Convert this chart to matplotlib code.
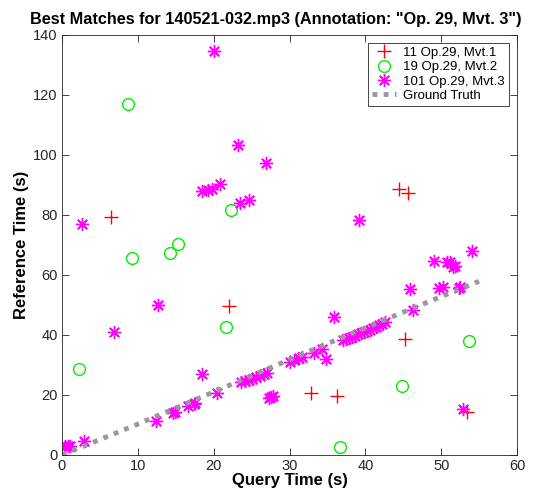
import matplotlib
matplotlib.use("Agg")
import matplotlib.pyplot as plt

plt.rcParams['font.family'] = ['Liberation Sans', 'DejaVu Sans']

# piece 11 (Op.29, Mvt.1) matches
red_x = [6.4, 22.0, 44.4, 45.6, 45.2, 32.85, 36.3, 53.4]
red_y = [79.2, 49.7, 88.7, 87.3, 38.8, 20.7, 19.8, 14.3]

# piece 19 (Op.29, Mvt.2) matches
green_x = [8.66, 22.3, 9.23, 14.2, 15.3, 21.6, 2.2, 53.7, 44.8, 36.6]
green_y = [117.1, 81.8, 65.8, 67.2, 70.3, 42.6, 28.6, 38.1, 23.0, 2.8]

# piece 101 (Op.29, Mvt.3) matches
mag_x = [20.05, 23.2, 26.95, 18.5, 19.3, 19.75, 20.9, 23.5, 24.7, 2.6, 39.1,
         54.1, 49.1, 50.8, 51.1, 51.5, 51.8, 45.95, 49.7, 50.3, 52.3, 52.5,
         46.3, 35.85, 12.6, 6.8, 18.4,
         23.6, 24.1, 24.6, 25.1, 25.6, 26.1, 26.6, 27.0,
         20.4, 27.3, 27.6, 27.8, 30.1, 30.6, 31.2, 31.6,
         33.2, 34.3, 34.75,
         37.0, 37.4, 37.8, 38.2, 38.6, 39.0, 39.4, 39.8, 40.2, 40.6, 41.0,
         41.4, 41.8, 42.2, 42.6,
         16.6, 17.4, 17.6, 14.6, 14.9, 12.4, 2.9, 0.4, 0.8, 1.1, 52.9]
mag_y = [134.7, 103.3, 97.3, 88.1, 88.4, 88.7, 90.5, 83.9, 85.0, 77.0, 78.2,
         68.1, 64.8, 64.2, 64.4, 62.6, 63.0, 55.3, 55.6, 55.9, 55.7, 56.0,
         48.5, 46.1, 50.0, 40.9, 27.1,
         24.3, 24.7, 25.1, 25.5, 25.9, 26.4, 26.9, 27.5,
         20.7, 18.9, 19.4, 19.8, 31.1, 31.6, 32.2, 32.6,
         34.1, 35.4, 32.1,
         38.4, 38.8, 39.1, 39.4, 39.8, 40.2, 40.6, 41.0, 41.4, 41.8, 42.3,
         42.7, 43.2, 43.7, 44.2,
         16.3, 17.0, 17.3, 13.9, 14.3, 11.4, 4.7, 2.9, 3.1, 3.0, 15.2]

# ground truth alignment
gt_x = [0, 10, 20, 30, 40, 50, 55]
gt_y = [0, 10.3, 21.0, 31.8, 42.4, 52.8, 57.9]

fig = plt.figure(figsize=(5.52, 4.93), dpi=100)
ax = fig.add_axes([62 / 552, 38 / 493, 455 / 552, 420 / 493])

ax.plot(red_x, red_y, linestyle='none', marker='+', color='red',
        markersize=9.5, markeredgewidth=1.0, label='11 Op.29, Mvt.1')
ax.plot(green_x, green_y, linestyle='none', marker='o', color='#00ee00',
        markerfacecolor='none', markersize=8.5, markeredgewidth=1.0,
        label='19 Op.29, Mvt.2')
ax.plot(mag_x, mag_y, linestyle='none', marker=(8, 2, 0), color='magenta',
        markersize=9.5, markeredgewidth=1.0, label='101 Op.29, Mvt.3')
ax.plot(gt_x, gt_y, linestyle=(0, (1, 1.3)), color='#999999', linewidth=3.5,
        label='Ground Truth')

ax.set_xlim(0, 60)
ax.set_ylim(0, 140)
ax.set_xticks(range(0, 61, 10))
ax.set_yticks(range(0, 141, 20))
ax.tick_params(direction='in', top=True, right=True, length=5, width=0.6,
               labelsize=10.5, colors='#262626', pad=3)
for s in ax.spines.values():
    s.set_linewidth(0.6)
    s.set_color('#262626')

ax.set_xlabel('Query Time (s)', fontsize=12, fontweight='bold', labelpad=0)
ax.set_ylabel('Reference Time (s)', fontsize=12, fontweight='bold', labelpad=3)
# title is centred on the figure in the reference
fig.text(0.5, 1 - 24 / 493,
         'Best Matches for 140521-032.mp3 (Annotation: "Op. 29, Mvt. 3")',
         fontsize=11.7, fontweight='bold', ha='center', va='baseline')

leg = ax.legend(loc='upper right', fontsize=9.5, fancybox=False, framealpha=1,
                edgecolor='#262626', borderpad=0.3, labelspacing=0.15,
                handlelength=1.8, handletextpad=0.6, borderaxespad=0.6)
leg.get_frame().set_linewidth(0.6)

fig.savefig('out.png', dpi=100)
